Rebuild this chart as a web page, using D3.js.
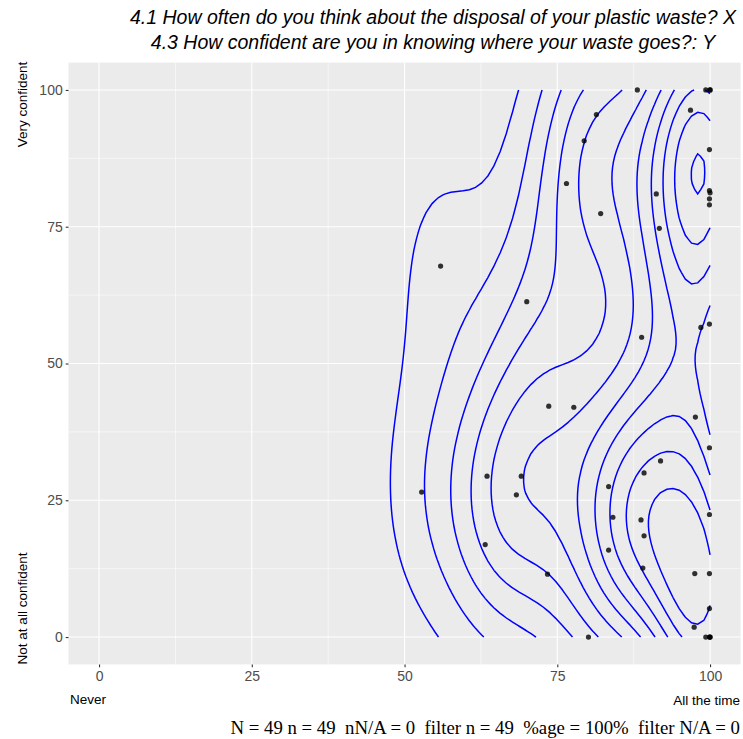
<!DOCTYPE html>
<html>
<head>
<meta charset="utf-8">
<script src="https://cdn.jsdelivr.net/npm/d3@7"></script>
<style>
  body { margin: 0; background: #fff; }
  svg { display: block; }
</style>
</head>
<body>
<svg id="chart" width="743" height="739"></svg>
<script>
// responses (0 = never / not at all, 100 = all the time / very)
const xValues = [88.1, 99.3, 100, 100, 96.8, 81.4, 79.4, 99.9, 76.5, 99.9, 100, 99.9, 99.9, 91.2, 82.1, 91.7,
  55.9, 70.0, 98.5, 99.9, 88.8,
  73.6, 77.7, 97.6, 99.9, 91.9, 89.2, 63.5, 69.1, 83.4, 52.8, 68.3, 99.9, 84.1, 88.7, 89.2, 63.2, 83.4,
  89.0, 73.4, 97.5, 99.9, 99.9, 97.4, 80.1, 99.3, 100, 100, 99.9];
const yValues = [100, 100, 100, 100, 96.3, 95.5, 90.7, 89.1, 82.9, 81.6, 81.2, 80.1, 79.0, 81.0, 77.4, 74.7,
  67.8, 61.3, 56.6, 57.2, 54.8,
  42.2, 42.0, 40.2, 34.6, 32.2, 30.0, 29.4, 29.4, 27.5, 26.5, 26.0, 22.4, 21.9, 21.4, 18.5, 16.9, 15.9,
  12.6, 11.5, 11.6, 11.6, 5.2, 1.8, 0, 0, 0, 0, 0];
const tickValues = [0, 25, 50, 75, 100];
const minorValues = [12.5, 37.5, 62.5, 87.5];
const titleLines = [
  "4.1 How often do you think about the disposal of your plastic waste? X",
  "4.3 How confident are you in knowing where your waste goes?: Y"
];
const xEndLabels = ["Never", "All the time"];
const yEndLabels = ["Not at all confident", "Very confident"];
const caption = "N = 49 n = 49  nN/A = 0  filter n = 49  %age = 100%  filter N/A = 0";

const svg = d3.select("#chart");
const panel = { left: 68.5, right: 740.6, top: 62.6, bottom: 664.4 };
const x = d3.scaleLinear().domain([-5, 105]).range([panel.left, panel.right]);
const y = d3.scaleLinear().domain([-5, 105]).range([panel.bottom, panel.top]);

// panel + grid
svg.append("rect")
  .attr("x", panel.left).attr("y", panel.top)
  .attr("width", panel.right - panel.left).attr("height", panel.bottom - panel.top)
  .attr("fill", "#EBEBEB");

const grid = svg.append("g").attr("stroke", "#fff").attr("fill", "none");
minorValues.forEach(v => {
  grid.append("line").attr("x1", x(v)).attr("x2", x(v)).attr("y1", panel.top).attr("y2", panel.bottom).attr("stroke-width", 0.55);
  grid.append("line").attr("y1", y(v)).attr("y2", y(v)).attr("x1", panel.left).attr("x2", panel.right).attr("stroke-width", 0.55);
});
tickValues.forEach(v => {
  grid.append("line").attr("x1", x(v)).attr("x2", x(v)).attr("y1", panel.top).attr("y2", panel.bottom).attr("stroke-width", 1.1);
  grid.append("line").attr("y1", y(v)).attr("y2", y(v)).attr("x1", panel.left).attr("x2", panel.right).attr("stroke-width", 1.1);
});

// 2d density like MASS::kde2d, grid over the scale limits
const bandwidthNrd = (v) => {
  const s = v.slice().sort(d3.ascending);
  const iqr = d3.quantile(s, 0.75) - d3.quantile(s, 0.25);
  return 4 * 1.06 * Math.min(d3.deviation(s), iqr / 1.34) * Math.pow(s.length, -0.2);
};
const N = 100;
const xLim = [0, 100], yLim = [0, 100];
const hx = 1.0 * bandwidthNrd(xValues) / 4, hy = 1.1 * bandwidthNrd(yValues) / 4;
const gx = d3.range(N).map(i => xLim[0] + i * (xLim[1] - xLim[0]) / (N - 1));
const gy = d3.range(N).map(j => yLim[0] + j * (yLim[1] - yLim[0]) / (N - 1));
const dnorm = (u) => Math.exp(-0.5 * u * u) / Math.sqrt(2 * Math.PI);
const dens = new Array(N * N);
for (let j = 0; j < N; j++) {
  for (let i = 0; i < N; i++) {
    let s = 0;
    for (let k = 0; k < xValues.length; k++) {
      s += dnorm((gx[i] - xValues[k]) / hx) * dnorm((gy[j] - yValues[k]) / hy);
    }
    dens[j * N + i] = s / (xValues.length * hx * hy);
  }
}
// evenly spaced levels, 11 of them below the peak
const zMax = d3.max(dens);
const levels = d3.range(1, 12).map(i => i * zMax / 12);
const rings = d3.contours().size([N, N]).thresholds(levels)(dens);

// contours from d3 are closed against the grid edge; ggplot leaves them open there
const onEdge = p => p[0] === 0 || p[0] === N || p[1] === 0 || p[1] === N;
const toData = p => [xLim[0] + (p[0] - 0.5) * (xLim[1] - xLim[0]) / (N - 1),
                     yLim[0] + (p[1] - 0.5) * (yLim[1] - yLim[0]) / (N - 1)];
const paths = [];
rings.forEach(mp => {
  mp.coordinates.forEach(poly => {
    poly.forEach(ring => {
      let pts = ring.slice(0, -1);
      const start = pts.findIndex(onEdge);
      if (start < 0) { paths.push(ring.map(toData)); return; }
      pts = pts.slice(start).concat(pts.slice(0, start));
      let cur = [];
      pts.concat([pts[0]]).forEach(p => {
        if (onEdge(p)) { if (cur.length > 1) paths.push(cur); cur = []; }
        else cur.push(toData(p));
      });
    });
  });
});

const line = d3.line().x(d => x(d[0])).y(d => y(d[1]));
svg.append("g").selectAll("path").data(paths).join("path")
  .attr("d", line)
  .attr("fill", "none")
  .attr("stroke", "#0000FF")
  .attr("stroke-width", 1.5);

// points
svg.append("g").selectAll("circle").data(xValues).join("circle")
  .attr("cx", (d) => x(d))
  .attr("cy", (d, i) => y(yValues[i]))
  .attr("r", 2.6)
  .attr("fill", "#000")
  .attr("fill-opacity", 0.8);

// axes
const axisFont = "'Liberation Sans', Arial, sans-serif";
const yAxis = svg.append("g").attr("transform", `translate(${panel.left},0)`)
  .call(d3.axisLeft(y).tickValues(tickValues).tickSize(2.8).tickPadding(3));
const xAxis = svg.append("g").attr("transform", `translate(0,${panel.bottom})`)
  .call(d3.axisBottom(x).tickValues(tickValues).tickSize(2.8).tickPadding(4));
[xAxis, yAxis].forEach(g => {
  g.select(".domain").remove();
  g.selectAll(".tick line").attr("stroke", "#333333").attr("stroke-width", 1.1);
  g.selectAll(".tick text").attr("fill", "#4D4D4D").style("font-family", axisFont).style("font-size", "14px");
});

// end labels
const endLabel = (sel) => sel.style("font-family", axisFont).style("font-size", "13.5px").attr("fill", "#000");
svg.append("text").attr("x", 70).attr("y", 704).call(endLabel).text(xEndLabels[0]);
svg.append("text").attr("x", 740).attr("y", 705).attr("text-anchor", "end").call(endLabel).text(xEndLabels[1]);
svg.append("text").attr("transform", `translate(27,${panel.bottom}) rotate(-90)`).call(endLabel).text(yEndLabels[0]);
svg.append("text").attr("transform", `translate(27,61.7) rotate(-90)`).attr("text-anchor", "end").call(endLabel).text(yEndLabels[1]);

// title
svg.append("g").selectAll("text").data(titleLines).join("text")
  .attr("x", 433)
  .attr("y", (d, i) => 24 + i * 24.5)
  .attr("text-anchor", "middle")
  .style("font-family", axisFont).style("font-style", "italic").style("font-size", "19.5px")
  .attr("fill", "#000")
  .text(d => d);

// caption
svg.append("text").attr("x", 740).attr("y", 734).attr("text-anchor", "end")
  .style("font-family", "'Liberation Serif', 'Times New Roman', serif").style("font-size", "18.8px")
  .style("white-space", "pre").attr("xml:space", "preserve")
  .attr("fill", "#000")
  .text(caption);
</script>
</body>
</html>
